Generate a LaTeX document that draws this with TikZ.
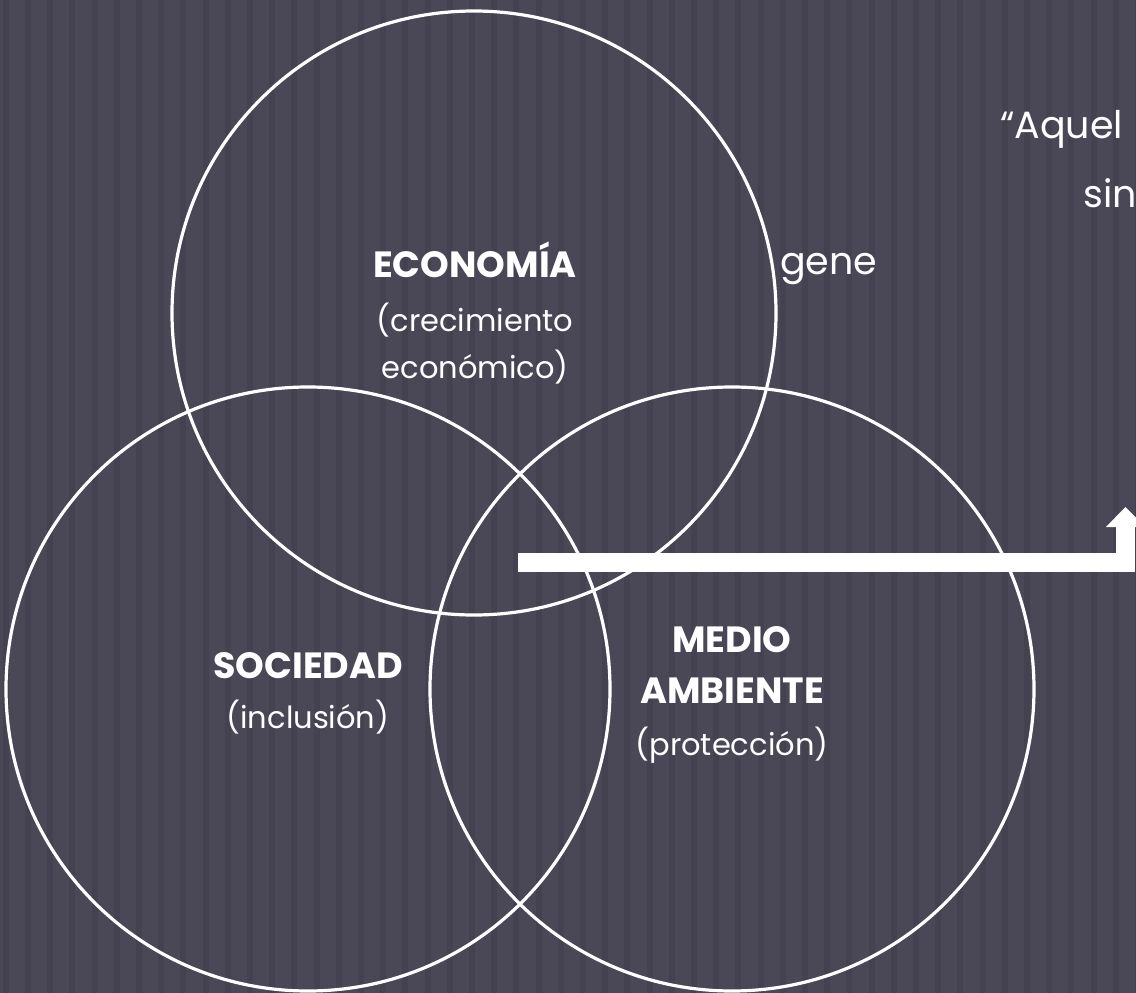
\documentclass[tikz,border=0pt]{standalone}
\usepackage{fontspec}
\setmainfont{Poppins}
\usetikzlibrary{arrows.meta}
\definecolor{bgbase}{RGB}{74,72,87}
\definecolor{bgdark}{RGB}{68,66,81}
\tikzset{
  ring/.style={circle, draw=white, line width=3.2pt, minimum size=604pt, inner sep=0pt},
  lbold/.style={text=white, inner sep=0pt, anchor=base, font=\fontsize{36.5}{40}\selectfont\bfseries},
  lreg/.style={text=white, inner sep=0pt, anchor=base, font=\fontsize{30.5}{40}\selectfont},
  quote/.style={text=white, inner sep=0pt, anchor=base west, font=\fontsize{38}{50}\selectfont},
  bigarrow/.style={draw=white, line width=19pt, line join=miter, -{Triangle[width=38pt,length=20pt]}}
}
\begin{document}
\begin{tikzpicture}[x=1pt,y=-1pt]
\useasboundingbox (0,0) rectangle (1136,993);
\fill[bgbase] (0,0) rectangle (1136,993);
\foreach \i in {0,...,51} \fill[bgdark] ({2.7+22.2*\i},0) rectangle ({8.7+22.2*\i},993);
\begin{scope}
\clip (0,0) rectangle (1136,993);
\node[ring] (eco) at (474,313) {};
\node[ring] (soc) at (308,689) {};
\node[ring] (med) at (732,689) {};
\coordinate (astart) at (518,562.5);
\coordinate (acorner) at (1125.5,562.5);
\coordinate (atip) at (1125.5,507);
\draw[bigarrow] (astart) -- (acorner) -- (atip);
\end{scope}
\node[lbold] (eco1) at (475,277) {ECONOMÍA};
\node[lreg] (eco2) at (475,331) {(crecimiento};
\node[lreg] (eco3) at (475,378) {económico)};
\node[lbold] (soc1) at (308,678) {SOCIEDAD};
\node[lreg] (soc2) at (308,728) {(inclusión)};
\node[lbold] (med1) at (732,652) {MEDIO};
\node[lbold] (med2) at (732,703) {AMBIENTE};
\node[lreg] (med3) at (732,755) {(protección)};
\node[quote] (q1) at (1000,138) {“Aquel};
\node[quote] (q2) at (1083,207) {sin};
\node[quote] (q3) at (780,274) {gene};
\end{tikzpicture}
\end{document}
